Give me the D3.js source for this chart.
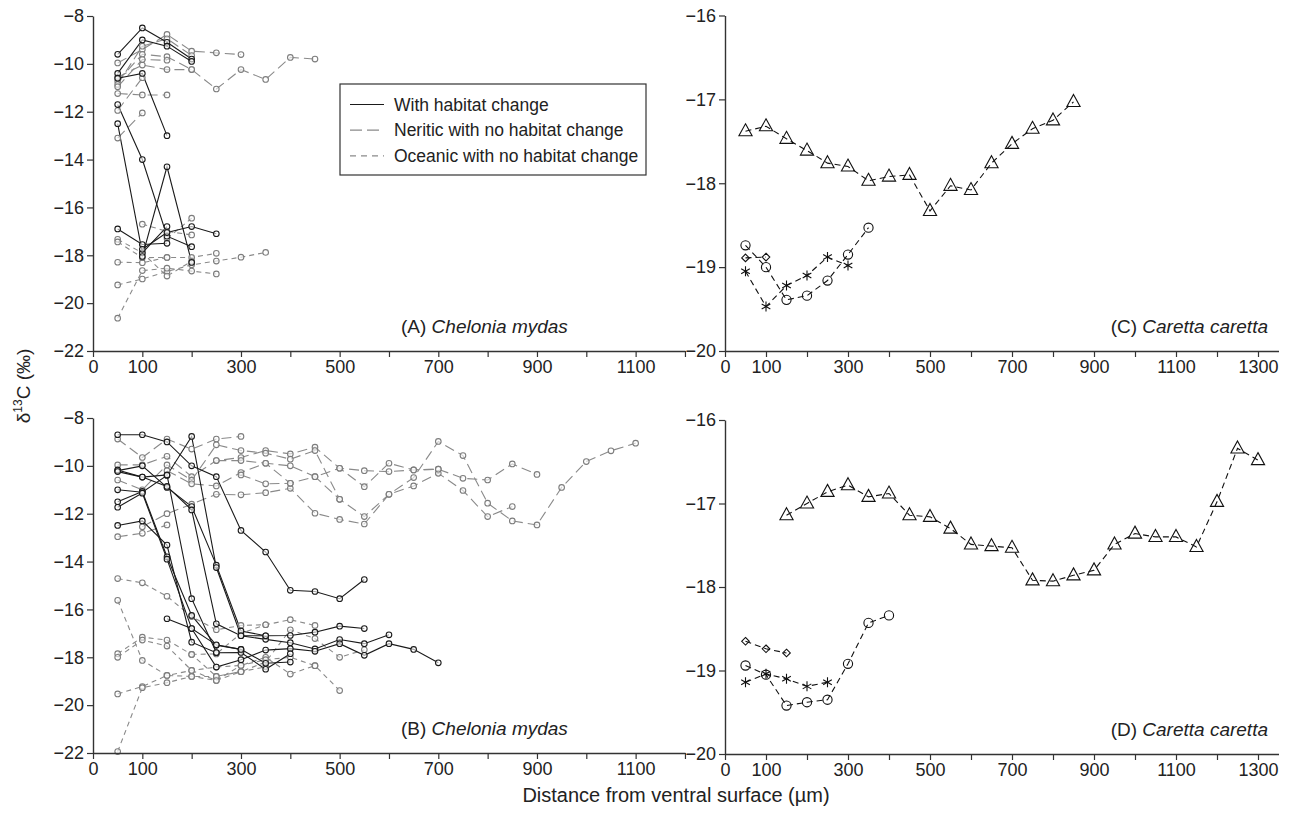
<!DOCTYPE html>
<html><head><meta charset="utf-8">
<script src="https://cdn.jsdelivr.net/npm/d3@7"></script>
<style>
body{margin:0;background:#fff}
svg{display:block}
text{font-family:"Liberation Sans",Arial,Helvetica,sans-serif;fill:#222}
</style>
</head><body>
<svg id="c" width="1289" height="816"></svg>
<script>
// ---------- DATA ----------
// Panel A (Chelonia mydas) : [distance µm, δ13C]
const aHabitatChange = [
 [[50,-9.6],[100,-8.5],[150,-9.1],[200,-9.8]],
 [[50,-10.4],[100,-9.0],[150,-9.26],[200,-9.9]],
 [[50,-10.6],[100,-10.4],[150,-13.0]],
 [[50,-11.7],[100,-14.0],[150,-17.2],[200,-17.64]],
 [[50,-12.5],[100,-17.9],[150,-16.8]],
 [[50,-16.9],[100,-17.55],[150,-17.5]],
 [[100,-18.05],[150,-14.3],[200,-18.3]],
 [[100,-17.75],[150,-17.05],[200,-16.8],[250,-17.1]]
];
const aNeritic = [
 [[50,-9.96],[100,-9.4],[150,-8.77],[200,-9.47],[250,-9.54],[300,-9.61]],
 [[50,-10.72],[100,-9.6],[150,-9.7],[200,-10.24],[250,-11.05],[300,-10.24],[350,-10.65],[400,-9.73],[450,-9.8]],
 [[50,-11.24],[100,-11.3],[150,-11.3]],
 [[50,-10.56],[100,-10.05],[150,-10.24],[200,-10.24]],
 [[50,-13.1],[100,-12.05]],
 [[50,-10.86],[100,-9.26],[150,-8.95],[200,-9.65]],
 [[50,-10.96],[100,-9.82],[150,-9.85]],
 [[50,-11.95],[100,-10.58]]
];
const aOceanic = [
 [[50,-18.29],[100,-18.31],[150,-18.09],[200,-18.09],[250,-17.92]],
 [[50,-19.24],[100,-18.99],[150,-18.68],[200,-18.4],[250,-18.24],[300,-18.08],[350,-17.88]],
 [[50,-20.63],[100,-18.64],[150,-18.54],[200,-18.66],[250,-18.78]],
 [[50,-17.33],[100,-17.9],[150,-18.87],[200,-18.25]],
 [[50,-17.44],[100,-18.1],[150,-18.09]],
 [[100,-16.7],[150,-17.0],[200,-17.15]],
 [[150,-17.3],[200,-16.45]]
];
// Panel B (Chelonia mydas)
const bHabitatChange = [
 [[50,-8.7],[100,-8.7],[150,-9.0],[200,-10.0],[250,-10.45],[300,-12.7],[350,-13.6],[400,-15.2],[450,-15.25],[500,-15.55],[550,-14.75]],
 [[50,-10.2],[100,-10.0],[150,-10.9],[200,-11.7],[250,-14.15],[300,-16.9],[350,-17.1],[400,-17.09],[450,-16.95],[500,-16.7],[550,-16.8]],
 [[50,-11.0],[100,-11.1],[150,-10.4],[200,-8.77],[250,-14.25],[300,-17.1],[350,-17.25],[400,-17.39],[450,-17.65],[500,-17.26],[550,-17.43],[600,-17.06]],
 [[50,-11.5],[100,-11.07],[150,-13.8],[200,-16.25],[250,-17.5],[300,-17.67],[350,-18.25],[400,-18.2]],
 [[50,-11.73],[100,-11.14],[150,-13.9],[200,-16.8],[250,-18.41],[300,-18.1],[350,-17.7],[400,-17.64],[450,-17.75],[500,-17.43],[550,-17.92],[600,-17.43],[650,-17.67],[700,-18.23]],
 [[50,-12.49],[100,-12.3],[150,-13.31],[200,-17.37],[250,-17.81],[300,-17.8],[350,-18.5],[400,-17.85]],
 [[50,-10.17],[100,-10.47],[150,-10.86],[200,-11.84],[250,-16.6],[300,-17.1],[350,-17.1]],
 [[150,-16.39],[200,-16.8],[250,-17.48],[300,-17.67]],
 [[50,-10.24],[100,-10.47],[150,-10.38],[200,-15.55],[250,-17.8]]
];
const bNeritic = [
 [[50,-8.88],[100,-9.65],[150,-8.88],[200,-9.3],[250,-8.88],[300,-8.77]],
 [[50,-9.96],[100,-9.96],[150,-9.6],[200,-10.45],[250,-9.78],[300,-9.65],[350,-9.36],[400,-9.5],[450,-9.22],[500,-10.1],[550,-10.2],[600,-10.24],[650,-10.17],[700,-10.14],[750,-10.52],[800,-10.59],[850,-9.92],[900,-10.36]],
 [[50,-10.59],[100,-11.0],[150,-9.96],[200,-10.6],[250,-9.12],[300,-9.36],[350,-9.47],[400,-9.72],[450,-9.36],[500,-11.4],[550,-12.12],[600,-11.19],[650,-10.49],[700,-8.98],[750,-9.57],[800,-11.56],[850,-12.3],[900,-12.47],[950,-10.9],[1000,-9.82],[1050,-9.37],[1100,-9.05]],
 [[50,-12.96],[100,-12.82],[150,-12.47]],
 [[100,-12.54],[150,-12.0],[200,-11.6],[250,-11.19],[300,-11.21],[350,-11.12],[400,-10.94],[450,-11.98],[500,-12.24],[550,-12.43],[600,-11.19],[650,-10.84],[700,-10.31],[750,-11.03],[800,-12.12],[850,-11.7]],
 [[150,-10.2],[200,-10.75],[250,-10.84],[300,-10.28],[350,-9.89],[400,-10.0],[450,-10.45],[500,-10.1],[550,-10.87],[600,-9.89],[650,-10.17],[700,-10.14]],
 [[250,-9.78],[300,-9.78],[350,-9.89],[400,-10.73],[450,-10.45],[500,-11.4]],
 [[300,-10.38],[350,-10.75],[400,-10.73]]
];
const bOceanic = [
 [[50,-14.71],[100,-14.89],[150,-15.45],[200,-16.3],[250,-16.85],[300,-16.67],[350,-16.64],[400,-16.43],[450,-16.67]],
 [[50,-15.62],[100,-18.13],[150,-18.76],[200,-18.55],[250,-18.41],[300,-18.34],[350,-18.0],[400,-18.7],[450,-18.35]],
 [[50,-17.85],[100,-17.16],[150,-17.28],[200,-17.88],[250,-18.8],[300,-18.6],[350,-18.2],[400,-16.85],[450,-17.22],[500,-18.0],[550,-17.69]],
 [[50,-18.0],[100,-17.28],[150,-17.53],[200,-18.55],[250,-18.97],[300,-18.34],[350,-18.1],[400,-18.0],[450,-18.35],[500,-19.39]],
 [[50,-19.53],[100,-19.22],[150,-18.76],[200,-18.8],[250,-18.8],[300,-18.6],[350,-18.4]],
 [[50,-21.94],[100,-19.27],[150,-19.06],[200,-18.8],[250,-18.97],[300,-18.6]],
 [[200,-17.88],[250,-17.86],[300,-17.0],[350,-16.64]]
];
// Panel C (Caretta caretta)
const cTriangleX = [50,100,150,200,250,300,350,400,450,500,550,600,650,700,750,800,850];
const cTriangleY = [-17.38,-17.32,-17.47,-17.61,-17.76,-17.80,-17.97,-17.92,-17.90,-18.33,-18.03,-18.08,-17.76,-17.53,-17.35,-17.25,-17.03];
const cCircleX = [50,100,150,200,250,300,350];
const cCircleY = [-18.74,-19.00,-19.39,-19.34,-19.16,-18.85,-18.53];
const cDiamondX = [50,100];
const cDiamondY = [-18.89,-18.88];
const cStarX = [50,100,150,200,250,300];
const cStarY = [-19.05,-19.47,-19.22,-19.10,-18.88,-18.98];
// Panel D (Caretta caretta)
const dTriangleX = [150,200,250,300,350,400,450,500,550,600,650,700,750,800,850,900,950,1000,1050,1100,1150,1200,1250,1300];
const dTriangleY = [-17.14,-17.0,-16.86,-16.78,-16.92,-16.88,-17.14,-17.16,-17.3,-17.49,-17.51,-17.53,-17.92,-17.93,-17.86,-17.8,-17.49,-17.36,-17.4,-17.4,-17.52,-16.98,-16.34,-16.48];
const dCircleX = [50,100,150,200,250,300,350,400];
const dCircleY = [-18.94,-19.05,-19.42,-19.38,-19.35,-18.92,-18.43,-18.34];
const dDiamondX = [50,100,150];
const dDiamondY = [-18.65,-18.74,-18.79];
const dStarX = [50,100,150,200,250];
const dStarY = [-19.14,-19.04,-19.10,-19.19,-19.14];

// Axis ticks
const abXTicks = d3.range(0,1201,100);
const abXLabels = [0,100,300,500,700,900,1100];
const abYTicks = [-22,-20,-18,-16,-14,-12,-10,-8];
const cdXTicks = d3.range(0,1301,100);
const cdXLabels = [0,100,300,500,700,900,1100,1300];
const cdYTicks = [-20,-19,-18,-17,-16];
const legendLabels = ["With habitat change","Neritic with no habitat change","Oceanic with no habitat change"];

// ---------- DRAWING ----------
const svg = d3.select("#c");
const AX = "#333";
const GRAY = "#8a8a8a";
const GRAYC = "#7d7d7d";

function makeAxes(g, x, y, xTicks, xLabels, yTicks){
  const xa = d3.axisBottom(x).tickValues(xTicks)
    .tickFormat(d => xLabels.includes(d) ? String(d) : "").tickSize(6).tickSizeOuter(0);
  const ya = d3.axisLeft(y).tickValues(yTicks).tickFormat(d3.format("d")).tickSize(6).tickSizeOuter(0);
  const gx = g.append("g").attr("transform",`translate(0,${y.range()[0]})`).call(xa);
  const gy = g.append("g").attr("transform",`translate(${x.range()[0]},0)`).call(ya);
  [gx,gy].forEach(a=>{
    a.select(".domain").attr("stroke",AX).attr("stroke-width",1.4);
    a.selectAll(".tick line").attr("stroke",AX).attr("stroke-width",1.2);
    a.selectAll("text").attr("font-size",18).attr("fill","#222")
      .attr("font-family",'"Liberation Sans",Arial,sans-serif');
  });
}

function turtlePanel(o){
  const g = svg.append("g");
  const x = d3.scaleLinear().domain([0,1200]).range([93, 93+1200*0.4933]);
  const y = d3.scaleLinear().domain([-22,-8]).range(o.yRange);
  const line = d3.line().x(d=>x(d[0])).y(d=>y(d[1]));
  const groups = [
    {data:o.neritic, stroke:GRAY, dash:"10,5", c:GRAYC},
    {data:o.oceanic, stroke:GRAY, dash:"5,4", c:GRAYC},
    {data:o.habitat, stroke:"#1a1a1a", dash:null, c:"#1a1a1a"}
  ];
  groups.forEach(gr=>{
    g.selectAll(null).data(gr.data).enter().append("path")
      .attr("d",line).attr("fill","none").attr("stroke",gr.stroke)
      .attr("stroke-width",1.1).attr("stroke-dasharray",gr.dash);
  });
  groups.forEach(gr=>{
    g.selectAll(null).data(gr.data.flat()).enter().append("circle")
      .attr("cx",d=>x(d[0])).attr("cy",d=>y(d[1])).attr("r",2.8)
      .attr("fill","#fff").attr("fill-opacity",0.6).attr("stroke",gr.c).attr("stroke-width",1.1);
  });
  makeAxes(g,x,y,abXTicks,abXLabels,abYTicks);
  const t = g.append("text").attr("x",401).attr("y",o.yRange[0]-18).attr("font-size",19);
  t.append("tspan").text(o.letter+"  ");
  t.append("tspan").attr("font-style","italic").text("Chelonia mydas");
  return {g,x,y};
}

const tri = s => `M0,${-s*0.62}L${s*0.55},${s*0.38}L${-s*0.55},${s*0.38}Z`;
const diamond = s => `M0,${-s}L${s},0L0,${s}L${-s},0Z`;
const star = s => {
  const a=Math.cos(Math.PI/6)*s, b=Math.sin(Math.PI/6)*s;
  return `M0,${-s}L0,${s}M${-a},${-b}L${a},${b}M${-a},${b}L${a},${-b}`;
};

function carettaPanel(o){
  const g = svg.append("g");
  const x = d3.scaleLinear().domain([0,1350]).range([725, 725+1350*0.41]);
  const y = d3.scaleLinear().domain([-20,-16]).range(o.yRange);
  const line = d3.line().x(d=>x(d[0])).y(d=>y(d[1]));
  o.series.forEach(s=>{
    const pts = s.xs.map((v,i)=>[v,s.ys[i]]);
    g.append("path").datum(pts).attr("d",line).attr("fill","none")
      .attr("stroke","#111").attr("stroke-width",1.1).attr("stroke-dasharray","6,4");
  });
  o.series.forEach(s=>{
    const pts = s.xs.map((v,i)=>[v,s.ys[i]]);
    if(s.type==="circle"){
      g.selectAll(null).data(pts).enter().append("circle")
        .attr("cx",d=>x(d[0])).attr("cy",d=>y(d[1])).attr("r",4.6)
        .attr("fill","none").attr("stroke","#111").attr("stroke-width",1.1);
    } else {
      const p = s.type==="triangle"? tri(12): s.type==="diamond"? diamond(3.8): star(5);
      g.selectAll(null).data(pts).enter().append("path")
        .attr("transform",d=>`translate(${x(d[0])},${y(d[1])})`).attr("d",p)
        .attr("fill","none").attr("stroke","#111").attr("stroke-width",1.1);
    }
  });
  makeAxes(g,x,y,cdXTicks,cdXLabels,cdYTicks);
  const t = g.append("text").attr("x",1268).attr("y",o.yRange[0]-18).attr("font-size",19)
    .attr("text-anchor","end");
  t.append("tspan").text(o.letter+"  ");
  t.append("tspan").attr("font-style","italic").text("Caretta caretta");
}

turtlePanel({yRange:[351,16], habitat:aHabitatChange, neritic:aNeritic, oceanic:aOceanic, letter:"(A)"});
turtlePanel({yRange:[753,418], habitat:bHabitatChange, neritic:bNeritic, oceanic:bOceanic, letter:"(B)"});

carettaPanel({yRange:[351,15.5], letter:"(C)", series:[
  {type:"triangle", xs:cTriangleX, ys:cTriangleY},
  {type:"circle", xs:cCircleX, ys:cCircleY},
  {type:"diamond", xs:cDiamondX, ys:cDiamondY},
  {type:"star", xs:cStarX, ys:cStarY}
]});
carettaPanel({yRange:[754,420], letter:"(D)", series:[
  {type:"triangle", xs:dTriangleX, ys:dTriangleY},
  {type:"circle", xs:dCircleX, ys:dCircleY},
  {type:"diamond", xs:dDiamondX, ys:dDiamondY},
  {type:"star", xs:dStarX, ys:dStarY}
]});

// Legend (panel A)
const lg = svg.append("g").attr("transform","translate(340,84)");
lg.append("rect").attr("width",306).attr("height",91).attr("fill","#fff")
  .attr("stroke","#333").attr("stroke-width",1.2);
const lStyles = [{s:"#1a1a1a",d:null},{s:GRAY,d:"12,5"},{s:GRAY,d:"6,5"}];
legendLabels.forEach((lab,i)=>{
  const yy = 20.5 + i*25.7;
  lg.append("line").attr("x1",10).attr("x2",44).attr("y1",yy).attr("y2",yy)
    .attr("stroke",lStyles[i].s).attr("stroke-width",1.2).attr("stroke-dasharray",lStyles[i].d);
  lg.append("text").attr("x",54).attr("y",yy+6).attr("font-size",17.5).text(lab);
});

// Axis titles
const yt = svg.append("text").attr("transform","translate(30,386) rotate(-90)")
  .attr("text-anchor","middle").attr("font-size",19);
yt.append("tspan").text("δ");
yt.append("tspan").attr("font-size",12).attr("dy",-8).text("13");
yt.append("tspan").attr("dy",8).text("C (‰)");

svg.append("text").attr("x",676).attr("y",802).attr("text-anchor","middle").attr("font-size",20)
  .text("Distance from ventral surface (µm)");
</script>
</body></html>
